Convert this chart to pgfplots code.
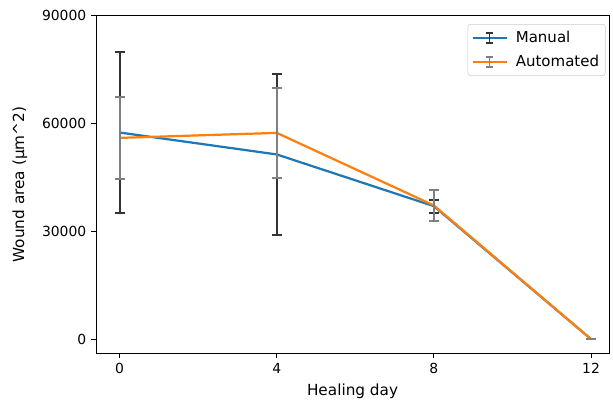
\documentclass[border=0pt]{standalone}
\usepackage{fontspec}
\setmainfont{DejaVu Sans}
\usepackage{pgfplots}
\pgfplotsset{compat=1.18}
\definecolor{mplblue}{HTML}{1F77B4}
\definecolor{mplorange}{HTML}{FF7F0E}
\definecolor{barA}{HTML}{333333}
\definecolor{barB}{HTML}{808080}
\definecolor{legframe}{HTML}{CCCCCC}
\begin{document}
\begin{tikzpicture}
\useasboundingbox (-69.1pt,-35.6pt) rectangle (372.2pt,254.5pt);
\begin{axis}[
  at={(0,0)}, anchor=south west,
  scale only axis,
  width=369.4pt, height=243.2pt,
  xmin=-0.6, xmax=12.46,
  ymin=-4000, ymax=90000,
  xtick={0,4,8,12},
  ytick={0,30000,60000,90000},
  scaled y ticks=false,
  yticklabel style={/pgf/number format/.cd, fixed, 1000 sep={}, assume math mode=true},
  xticklabel style={/pgf/number format/assume math mode=true},
  tick align=outside,
  tick pos=left,
  major tick length=3.5pt,
  tick style={black, line width=0.6pt},
  axis line style={black, line width=0.6pt},
  every axis y label/.style={at={(axis description cs:0,0.5)}, xshift=-54.7pt, rotate=90, anchor=center, font=\fontsize{11}{13}\selectfont},
  every axis x label/.style={at={(axis description cs:0.5,0)}, yshift=-27pt, anchor=center, font=\fontsize{11}{13}\selectfont},
  xlabel={Healing day},
  ylabel={Wound area (μm\textasciicircum 2)},
  legend cell align=left,
  legend style={at={(axis description cs:1,1)}, anchor=north east, xshift=-2.5pt, yshift=-6pt,
    draw=legframe, rounded corners=2pt, fill=white, inner xsep=2.5pt, inner ysep=3pt, row sep=3.5pt,
    font=\fontsize{10.8}{13}\selectfont},
]
% Manual
\addplot[mplblue, line width=1.6pt, forget plot,
  error bars/.cd, y dir=both, y explicit,
  error bar style={barA, line width=1.5pt},
  error mark options={barA, line width=1.5pt, mark size=3.6pt, rotate=90}]
  coordinates {
  (0,57500) +- (0,22300)
  (4,51400) +- (0,22400)
  (8,37000) +- (0,1800)
  (12,0) +- (0,0)
  };
% Automated
\addplot[mplorange, line width=1.6pt, forget plot,
  error bars/.cd, y dir=both, y explicit,
  error bar style={barB, line width=1.5pt},
  error mark options={barB, line width=1.5pt, mark size=3.6pt, rotate=90}]
  coordinates {
  (0,56000) +- (0,11400)
  (4,57400) +- (0,12450)
  (8,37200) +- (0,4280)
  (12,0) +- (0,0)
  };
\addlegendimage{legend image code/.code={
  \draw[mplblue, line width=1.6pt] (0pt,0pt) -- (24.5pt,0pt);
  \draw[barA, line width=1.2pt] (12.25pt,-3.7pt) -- (12.25pt,3.7pt);
  \draw[barA, line width=1.2pt] (10pt,-3.7pt) -- (14.5pt,-3.7pt);
  \draw[barA, line width=1.2pt] (10pt,3.7pt) -- (14.5pt,3.7pt);
  \path (29pt,0pt);
}}
\addlegendentry{Manual}
\addlegendimage{legend image code/.code={
  \draw[mplorange, line width=1.6pt] (0pt,0pt) -- (24.5pt,0pt);
  \draw[barB, line width=1.2pt] (12.25pt,-3.7pt) -- (12.25pt,3.7pt);
  \draw[barB, line width=1.2pt] (10pt,-3.7pt) -- (14.5pt,-3.7pt);
  \draw[barB, line width=1.2pt] (10pt,3.7pt) -- (14.5pt,3.7pt);
  \path (29pt,0pt);
}}
\addlegendentry{Automated}
\end{axis}
\end{tikzpicture}
\end{document}
